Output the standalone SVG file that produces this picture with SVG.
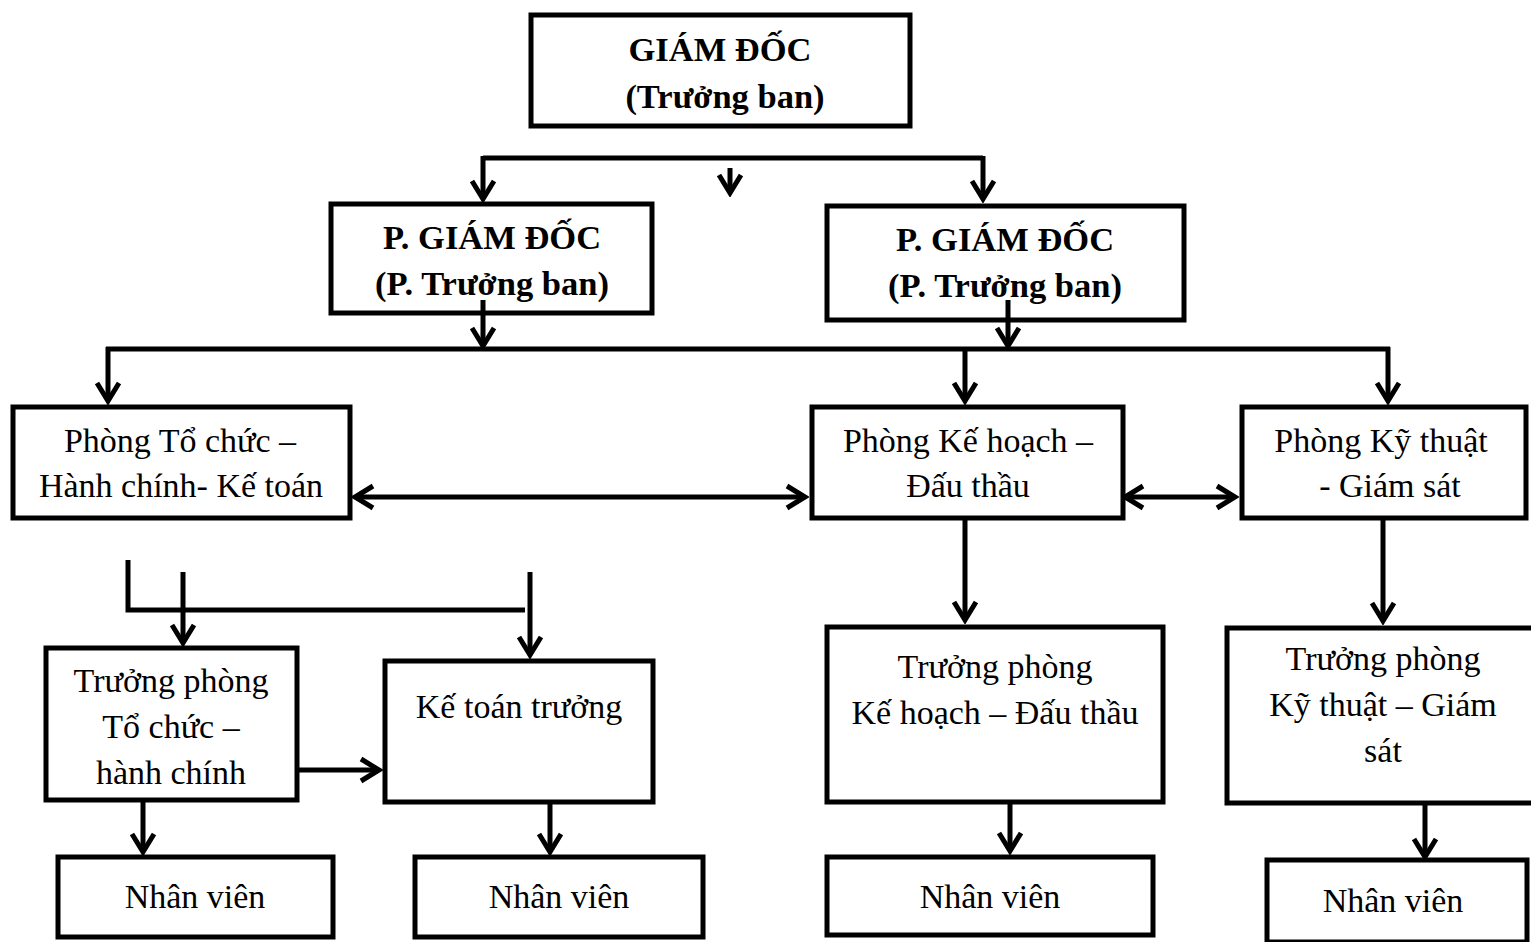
<svg xmlns="http://www.w3.org/2000/svg" width="1531" height="942" viewBox="0 0 1531 942">
  <style>
    .box { fill: #fff; stroke: #000; stroke-width: 5; }
    .t { font-family: "Liberation Serif", "Times New Roman", serif; font-size: 34px; fill: #000; text-anchor: middle; }
    .b { font-weight: bold; font-size: 34.5px; }
    .ln { fill: none; stroke: #000; stroke-width: 5; }
    .ar { fill: none; stroke: #000; stroke-width: 5; marker-end: url(#head); }
    .ar2 { fill: none; stroke: #000; stroke-width: 5; marker-start: url(#head); marker-end: url(#head); }
  </style>
  <defs>
    <marker id="head" viewBox="-22 -14 26 28" refX="0" refY="0" markerWidth="26" markerHeight="28" markerUnits="userSpaceOnUse" orient="auto-start-reverse">
      <path d="M-18,-11 L0,0 L-18,11" fill="none" stroke="#000" stroke-width="5"/>
    </marker>
  </defs>

  <rect width="1531" height="942" fill="#fff"/>

  <g id="giam-doc">
    <rect class="box" x="531" y="15" width="379" height="111"/>
    <text class="t b" x="720" y="61">GIÁM ĐỐC</text>
    <text class="t b" x="725" y="108">(Trưởng ban)</text>
  </g>

  <g id="pgd-1">
    <rect class="box" x="331" y="204" width="321" height="109"/>
    <text class="t b" x="492" y="249">P. GIÁM ĐỐC</text>
    <text class="t b" x="492" y="295">(P. Trưởng ban)</text>
  </g>

  <g id="pgd-2">
    <rect class="box" x="827" y="206" width="357" height="114"/>
    <text class="t b" x="1005" y="251">P. GIÁM ĐỐC</text>
    <text class="t b" x="1005" y="297">(P. Trưởng ban)</text>
  </g>

  <g id="phong-to-chuc">
    <rect class="box" x="13" y="407" width="337" height="111"/>
    <text class="t" x="180" y="452">Phòng Tổ chức –</text>
    <text class="t" x="181" y="497">Hành chính- Kế toán</text>
  </g>

  <g id="phong-ke-hoach">
    <rect class="box" x="812" y="407" width="311" height="111"/>
    <text class="t" x="968" y="452">Phòng Kế hoạch –</text>
    <text class="t" x="968" y="497">Đấu thầu</text>
  </g>

  <g id="phong-ky-thuat">
    <rect class="box" x="1242" y="407" width="284" height="111"/>
    <text class="t" x="1381" y="452">Phòng Kỹ thuật</text>
    <text class="t" x="1390" y="497">- Giám sát</text>
  </g>

  <g id="tp-to-chuc">
    <rect class="box" x="46" y="648" width="251" height="152"/>
    <text class="t" x="171" y="692">Trưởng phòng</text>
    <text class="t" x="171" y="738">Tổ chức –</text>
    <text class="t" x="171" y="784">hành chính</text>
  </g>

  <g id="ke-toan-truong">
    <rect class="box" x="385" y="661" width="268" height="141"/>
    <text class="t" x="519" y="718">Kế toán trưởng</text>
  </g>

  <g id="tp-ke-hoach">
    <rect class="box" x="827" y="627" width="336" height="175"/>
    <text class="t" x="995" y="678">Trưởng phòng</text>
    <text class="t" x="995" y="724">Kế hoạch – Đấu thầu</text>
  </g>

  <g id="tp-ky-thuat">
    <rect class="box" x="1227" y="628" width="310" height="175"/>
    <text class="t" x="1383" y="670">Trưởng phòng</text>
    <text class="t" x="1383" y="716">Kỹ thuật – Giám</text>
    <text class="t" x="1383" y="762">sát</text>
  </g>

  <g id="nv-1">
    <rect class="box" x="58" y="857" width="275" height="80"/>
    <text class="t" x="195" y="908">Nhân viên</text>
  </g>

  <g id="nv-2">
    <rect class="box" x="415" y="857" width="288" height="80"/>
    <text class="t" x="559" y="908">Nhân viên</text>
  </g>

  <g id="nv-3">
    <rect class="box" x="827" y="857" width="326" height="78"/>
    <text class="t" x="990" y="908">Nhân viên</text>
  </g>

  <g id="nv-4">
    <rect class="box" x="1267" y="860" width="260" height="82"/>
    <text class="t" x="1393" y="912">Nhân viên</text>
  </g>

  <!-- connectors, drawn over the boxes -->
  <g id="connectors">
    <!-- director to deputies -->
    <path class="ln" d="M483,158 H983"/>
    <path class="ar" d="M483,156 V199"/>
    <path class="ar" d="M983,156 V199"/>
    <path class="ar" d="M730,168 V193"/>
    <!-- deputies to departments -->
    <path class="ar" d="M483,300 V346"/>
    <path class="ar" d="M1008,300 V346"/>
    <path class="ln" d="M106,349 H1390"/>
    <path class="ar" d="M108,347 V401"/>
    <path class="ar" d="M965,347 V401"/>
    <path class="ar" d="M1388,347 V401"/>
    <!-- between departments -->
    <path class="ar2" d="M355,497 H805"/>
    <path class="ar2" d="M1125,497 H1235"/>
    <!-- planning and technical heads -->
    <path class="ar" d="M965,520 V620"/>
    <path class="ar" d="M1383,520 V621"/>
    <!-- admin branch -->
    <path class="ln" d="M128,560 V610 H525"/>
    <path class="ar" d="M183,572 V643"/>
    <path class="ar" d="M530,572 V655"/>
    <path class="ar" d="M297,770 H379"/>
    <!-- to staff -->
    <path class="ar" d="M143,802 V852"/>
    <path class="ar" d="M550,804 V852"/>
    <path class="ar" d="M1010,804 V851"/>
    <path class="ar" d="M1425,805 V857"/>
  </g>
</svg>
